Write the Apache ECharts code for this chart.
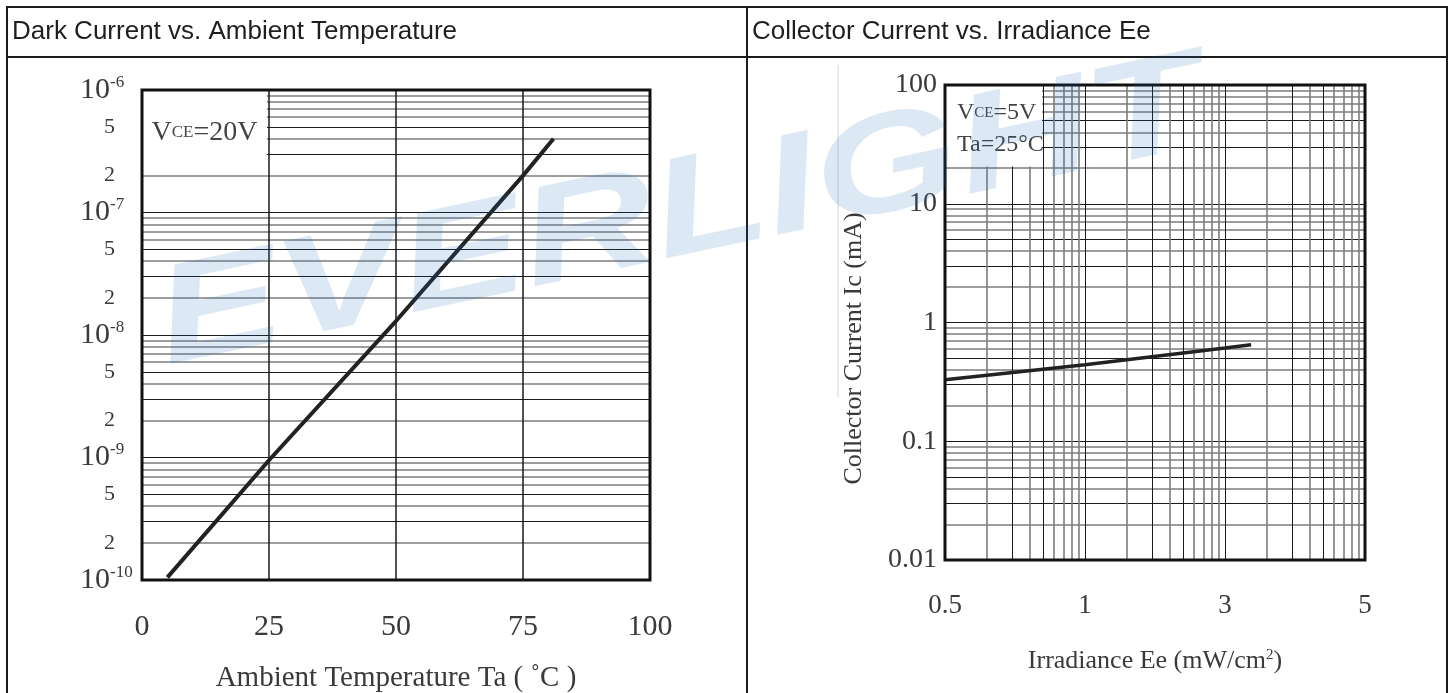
<!DOCTYPE html>
<html><head><meta charset="utf-8">
<script src="https://cdn.jsdelivr.net/npm/echarts@6/dist/echarts.min.js"></script>
<style>html,body{margin:0;padding:0;background:#fff;} #c{width:1455px;height:693px;}</style>
</head><body><div id="c"></div>
<script>
// ---------- Left chart: Dark Current vs. Ambient Temperature ----------
const ambientTempC = [5, 25, 50, 75, 81];
const darkCurrentA = [1.05e-10, 9.5e-10, 1.3e-8, 2.0e-7, 4.0e-7];
const tempTicks = [0, 25, 50, 75, 100];
const darkTickValues = [1e-10, 2e-10, 5e-10, 1e-9, 2e-9, 5e-9, 1e-8, 2e-8, 5e-8, 1e-7, 2e-7, 5e-7, 1e-6];
const darkTickLabels = ['10^-10', '2', '5', '10^-9', '2', '5', '10^-8', '2', '5', '10^-7', '2', '5', '10^-6'];

// ---------- Right chart: Collector Current vs. Irradiance Ee ----------
const irradianceMW = [0.5, 1, 3, 3.3];
const collectorCurrentMA = [0.33, 0.44, 0.61, 0.65];
const eeTickLabels = ['0.5', '1', '3', '5'];           // printed on the 3 log decades of the grid
const icTickLabels = ['0.01', '0.1', '1', '10', '100'];

const SERIF = '"Liberation Serif", "Times New Roman", serif';
const SANS = '"Liberation Sans", Arial, sans-serif';
const TXT = '#3a3a3a';

// the irradiance grid is a 3-decade log paper whose decade lines are labelled 0.5 / 1 / 3 / 5
const eeDecadeValues = eeTickLabels.map(Number);
function eeToGrid(v) {
  const n = eeDecadeValues.length;
  for (let i = 0; i < n - 1; i++) {
    const a = eeDecadeValues[i], b = eeDecadeValues[i + 1];
    if (v <= b || i === n - 2) return Math.pow(10, i + Math.log(v / a) / Math.log(b / a));
  }
}

function logGridLines(minExp, maxExp, key) {
  const out = [];
  for (let d = minExp; d < maxExp; d++) {
    for (let k = 1; k <= 9; k++) {
      if (k === 1 && d === minExp) continue;
      const dark = (k === 1 || k === 3 || k === 5);
      out.push({ [key]: k * Math.pow(10, d),
        lineStyle: { color: dark ? '#1a1a1a' : '#7d7d7d', width: dark ? 1 : 1.6, type: 'solid' } });
    }
  }
  return out;
}
function markLineOf(data) {
  return { z: 3, precision: 20, symbol: ['none', 'none'], silent: true, animation: false, label: { show: false },
    emphasis: { disabled: true }, lineStyle: { type: 'solid' }, data };
}

const leftVLines = tempTicks.slice(1, -1).map(t => ({ xAxis: t, lineStyle: { color: '#1a1a1a', width: 1.5, type: 'solid' } }));

const chart = echarts.init(document.getElementById('c'), null, { renderer: 'canvas' });
chart.setOption({
  animation: false,
  backgroundColor: '#fff',
  textStyle: { fontFamily: SERIF },
  grid: [
    { left: 142, top: 90, width: 508, height: 490, show: true, borderColor: '#111', borderWidth: 3,
      backgroundColor: 'transparent', z: 10, outerBoundsMode: 'none', containLabel: false },
    { left: 945, top: 85, width: 420, height: 475, show: true, borderColor: '#111', borderWidth: 3,
      backgroundColor: 'transparent', z: 10, outerBoundsMode: 'none', containLabel: false }
  ],
  xAxis: [
    { type: 'value', gridIndex: 0, min: 0, max: 100, interval: 25,
      axisLine: { show: false }, axisTick: { show: false }, splitLine: { show: false },
      axisLabel: { fontSize: 30, fontFamily: SERIF, color: TXT, margin: 32 },
      name: 'Ambient Temperature Ta ( \u02DAC )', nameLocation: 'middle', nameGap: 84,
      nameTextStyle: { fontSize: 29, fontFamily: SERIF, color: TXT } },
    { type: 'log', gridIndex: 1, min: 1, max: 1000, logBase: 10,
      axisLine: { show: false }, axisTick: { show: false }, splitLine: { show: false },
      axisLabel: { fontSize: 27, fontFamily: SERIF, color: TXT, margin: 32,
        formatter: v => eeTickLabels[Math.round(Math.log10(v))] },
      name: 'Irradiance Ee (mW/cm{sup|2})', nameLocation: 'middle', nameGap: 88,
      nameTextStyle: { fontSize: 26, fontFamily: SERIF, color: TXT,
        rich: { sup: { fontSize: 15, fontFamily: SERIF, color: TXT, verticalAlign: 'top' } } } }
  ],
  yAxis: [
    { type: 'log', gridIndex: 0, min: 1e-10, max: 1e-6, logBase: 10,
      axisLine: { show: false }, axisTick: { show: false }, splitLine: { show: false },
      axisLabel: {
        customValues: darkTickValues, align: 'left', margin: 62, color: TXT,
        formatter: function (v) {
          const idx = darkTickValues.findIndex(t => Math.abs(Math.log10(t) - Math.log10(v)) < 1e-6);
          const lab = idx >= 0 ? darkTickLabels[idx] : '';
          if (lab.indexOf('10^') === 0) return '{b|10}{s|' + lab.slice(3) + '}';
          return '{m|' + lab + '}';
        },
        rich: {
          b: { fontSize: 30, fontFamily: SERIF, color: TXT, lineHeight: 32 },
          s: { fontSize: 17, fontFamily: SERIF, color: TXT, verticalAlign: 'top', lineHeight: 17 },
          m: { fontSize: 22, fontFamily: SERIF, color: TXT, width: 35, align: 'right' }
        } } },
    { type: 'log', gridIndex: 1, min: 0.01, max: 100, logBase: 10,
      axisLine: { show: false }, axisTick: { show: false }, splitLine: { show: false },
      axisLabel: { fontSize: 28, fontFamily: SERIF, color: TXT, margin: 8,
        formatter: v => icTickLabels[Math.round(Math.log10(v)) + 2] },
      name: 'Collector Current Ic (mA)', nameLocation: 'middle', nameRotate: 90, nameGap: 78,
      nameTextStyle: { fontSize: 26, fontFamily: SERIF, color: TXT, padding: [0, 52, 0, 0] } }
  ],
  series: [
    // left grid lines
    { type: 'line', xAxisIndex: 0, yAxisIndex: 0, data: [], z: 1, silent: true,
      markLine: markLineOf(logGridLines(-10, -6, 'yAxis').concat(leftVLines)) },
    // left legend box
    { type: 'line', xAxisIndex: 0, yAxisIndex: 0, data: [], z: 2, silent: true,
      markArea: { z: 4, silent: true, itemStyle: { color: '#fff', opacity: 1 },
        label: { show: true, position: 'inside', color: '#444', fontSize: 28, fontFamily: SERIF,
          formatter: 'V{sub|CE}=20V', rich: { sub: { fontSize: 17, fontFamily: SERIF, color: '#444' } } },
        data: [[{ xAxis: 0, yAxis: 1e-6 }, { xAxis: 24.6, yAxis: 2.04e-7 }]] } },
    // left curve
    { type: 'line', xAxisIndex: 0, yAxisIndex: 0, z: 6, symbol: 'none', silent: true,
      lineStyle: { color: '#222', width: 4 },
      data: ambientTempC.map((t, i) => [t, darkCurrentA[i]]) },

    // right grid lines
    { type: 'line', xAxisIndex: 1, yAxisIndex: 1, data: [], z: 1, silent: true,
      markLine: markLineOf(logGridLines(-2, 2, 'yAxis').concat(logGridLines(0, 3, 'xAxis'))) },
    // right legend box
    { type: 'line', xAxisIndex: 1, yAxisIndex: 1, data: [], z: 2, silent: true,
      markArea: { z: 4, silent: true, itemStyle: { color: '#fff', opacity: 1 },
        label: { show: true, position: 'insideTopLeft', distance: 12, color: '#444', fontSize: 24,
          fontFamily: SERIF, lineHeight: 32,
          formatter: 'V{sub|CE}=5V\nTa=25\u00B0C', rich: { sub: { fontSize: 15, fontFamily: SERIF, color: '#444', lineHeight: 32 } } },
        data: [[{ xAxis: 1, yAxis: 100 }, { xAxis: 4.93, yAxis: 20.6 }]] } },
    // right curve
    { type: 'line', xAxisIndex: 1, yAxisIndex: 1, z: 6, symbol: 'none', silent: true,
      lineStyle: { color: '#222', width: 3.5 },
      data: irradianceMW.map((e, i) => [eeToGrid(e), collectorCurrentMA[i]]) }
  ],
  graphic: [
    { type: 'rect', z: 50, silent: true, shape: { x: 7, y: 7, width: 1440, height: 700 },
      style: { fill: 'none', stroke: '#1c1c1c', lineWidth: 2 } },
    { type: 'line', z: 50, silent: true, shape: { x1: 7, y1: 57, x2: 1447, y2: 57 }, style: { stroke: '#1c1c1c', lineWidth: 2 } },
    { type: 'line', z: 50, silent: true, shape: { x1: 747, y1: 7, x2: 747, y2: 700 }, style: { stroke: '#1c1c1c', lineWidth: 2 } },
    { type: 'line', z: 5, silent: true, shape: { x1: 838, y1: 65, x2: 838, y2: 397 }, style: { stroke: '#d4d4d4', lineWidth: 1 } },
    { type: 'text', z: 50, silent: true, x: 12, y: 32,
      style: { text: 'Dark Current vs. Ambient Temperature', font: '26px ' + SANS, fill: '#1e1e1e', verticalAlign: 'middle' } },
    { type: 'text', z: 50, silent: true, x: 752, y: 32,
      style: { text: 'Collector Current vs. Irradiance Ee', font: '26px ' + SANS, fill: '#1e1e1e', verticalAlign: 'middle' } },
    { type: 'text', z: 100, silent: true, x: 680, y: 216, rotation: 12 * Math.PI / 180, scaleX: 1.33,
      style: { text: 'EVERLIGHT', font: 'italic bold 140px ' + SANS, fill: 'rgba(30,110,180,0.155)',
        align: 'center', verticalAlign: 'middle' } }
  ]
});
</script>
</body></html>
